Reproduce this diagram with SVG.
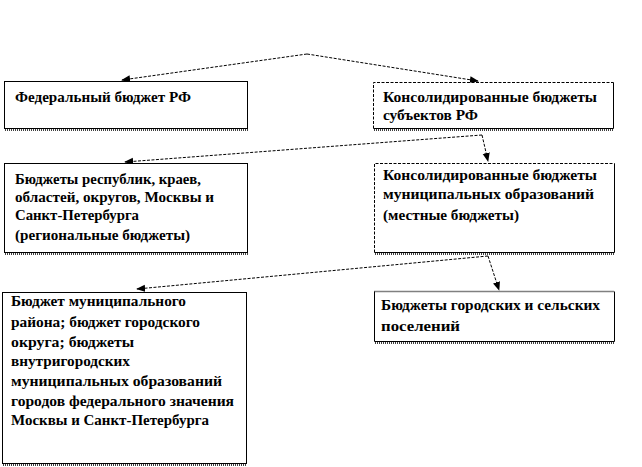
<svg xmlns="http://www.w3.org/2000/svg" width="642" height="467" viewBox="0 0 642 467">
<defs>
<style>
.box{fill:#fff;stroke:#000;stroke-width:1}
.fill{fill:#fff;stroke:none}
.ln{fill:none;stroke:#000;stroke-width:1}
.dash{fill:none;stroke:#000;stroke-width:1;stroke-dasharray:3,1.5}
.shadow{fill:none;stroke:#000;stroke-width:1.5;stroke-dasharray:1,1}
.t{font-family:"Liberation Serif","DejaVu Serif","Times New Roman",serif;font-weight:bold;font-size:14px;fill:#000}
.c{fill:none;stroke:#000;stroke-width:1;stroke-dasharray:3,1.5}
</style>
<marker id="ah" viewBox="0 0 10 10" refX="9" refY="5" markerWidth="9" markerHeight="9" markerUnits="userSpaceOnUse" orient="auto">
<path d="M0,1 L10,5 L0,9 Z" fill="#000"/>
</marker>
</defs>
<rect width="642" height="467" fill="#fff"/>
<g id="connectors">
<path class="c" d="M307,54 L122,80" marker-end="url(#ah)"/>
<path class="c" d="M307,54 L478,81" marker-end="url(#ah)"/>
<path class="c" d="M482,135 L125,162" marker-end="url(#ah)"/>
<path class="c" d="M482,135 L488,161" marker-end="url(#ah)"/>
<path class="c" d="M488,256 L137,289" marker-end="url(#ah)"/>
<path class="c" d="M488,256 L499,290" marker-end="url(#ah)"/>
</g>
<g id="n1">
<rect class="box" x="4.5" y="81.5" width="243" height="47"/>
<path class="shadow" d="M5,130 H248"/>
<text class="t" x="15" y="102" textLength="176" lengthAdjust="spacingAndGlyphs">Федеральный бюджет РФ</text>
</g>
<g id="n2">
<rect class="fill" x="373.5" y="82.5" width="240" height="46"/>
<path class="dash" d="M373.5,128.5 V82.5 H613.5"/>
<path class="ln" d="M613.5,82.5 V128.5 H373.5"/>
<path class="shadow" d="M374,130 H614"/>
<text class="t" x="383" y="102" textLength="214" lengthAdjust="spacingAndGlyphs">Консолидированные бюджеты</text>
<text class="t" x="383" y="120" textLength="95" lengthAdjust="spacingAndGlyphs">субъектов  РФ</text>
</g>
<g id="n3">
<rect class="box" x="4.5" y="163.5" width="243" height="89"/>
<path class="shadow" d="M5,254 H248"/>
<text class="t" x="15" y="184" textLength="186" lengthAdjust="spacingAndGlyphs">Бюджеты республик, краев,</text>
<text class="t" x="15" y="202" textLength="199" lengthAdjust="spacingAndGlyphs">областей, округов,  Москвы и</text>
<text class="t" x="15" y="220" textLength="124" lengthAdjust="spacingAndGlyphs">Санкт-Петербурга</text>
<text class="t" x="15" y="240" textLength="175" lengthAdjust="spacingAndGlyphs">(региональные бюджеты)</text>
</g>
<g id="n4">
<rect class="fill" x="374.5" y="163.5" width="240" height="89"/>
<path class="dash" d="M374.5,252.5 V163.5 H614.5"/>
<path class="ln" d="M614.5,163.5 V252.5 H374.5"/>
<path class="shadow" d="M375,254 H615"/>
<text class="t" x="383" y="180" textLength="214" lengthAdjust="spacingAndGlyphs">Консолидированные бюджеты</text>
<text class="t" x="383" y="199" textLength="211" lengthAdjust="spacingAndGlyphs">муниципальных образований</text>
<text class="t" x="383" y="220" textLength="136" lengthAdjust="spacingAndGlyphs">(местные бюджеты)</text>
</g>
<g id="n5">
<rect class="box" x="2.5" y="292.5" width="244" height="171"/>
<path class="shadow" d="M3,465 H247"/>
<text class="t" x="11" y="306" textLength="175" lengthAdjust="spacingAndGlyphs">Бюджет муниципального</text>
<text class="t" x="11" y="327" textLength="189" lengthAdjust="spacingAndGlyphs">района; бюджет городского</text>
<text class="t" x="11" y="347" textLength="123" lengthAdjust="spacingAndGlyphs">округа;  бюджеты</text>
<text class="t" x="11" y="366" textLength="119" lengthAdjust="spacingAndGlyphs">внутригородских</text>
<text class="t" x="11" y="386" textLength="211" lengthAdjust="spacingAndGlyphs">муниципальных образований</text>
<text class="t" x="11" y="406" textLength="223" lengthAdjust="spacingAndGlyphs">городов федерального  значения</text>
<text class="t" x="11" y="425" textLength="198" lengthAdjust="spacingAndGlyphs">Москвы и Санкт-Петербурга</text>
</g>
<g id="n6">
<rect class="fill" x="374.5" y="291.5" width="240" height="50"/>
<path class="shadow" d="M374.5,291.5 H614.5"/>
<path class="ln" d="M374.5,291.5 V341.5 H614.5 V291.5"/>
<path class="shadow" d="M375,343 H615"/>
<text class="t" x="381" y="310" textLength="219" lengthAdjust="spacingAndGlyphs">Бюджеты городских и сельских</text>
<text class="t" x="381" y="331" textLength="79" lengthAdjust="spacingAndGlyphs">поселений</text>
</g>
</svg>
